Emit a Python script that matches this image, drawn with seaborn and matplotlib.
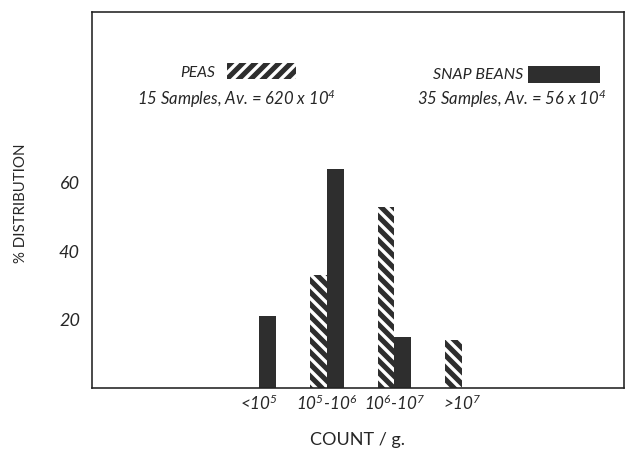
import numpy as np
import pandas as pd
import matplotlib
matplotlib.use("Agg")
from matplotlib import pyplot as plt
from matplotlib.patches import Rectangle
import seaborn as sns

# values (% distribution per count range)
categories = ['<1e5', '1e5-1e6', '1e6-1e7', '>1e7']
tick_labels = [r'<$10^5$', r'$10^5$-$10^6$', r'$10^6$-$10^7$', r'>$10^7$']
series = ['PEAS', 'SNAP BEANS']
peas = [np.nan, 33, 53, 14]
snap_beans = [21, 64, 15, np.nan]

df = pd.DataFrame({
    'range': categories * 2,
    'crop': [series[0]] * 4 + [series[1]] * 4,
    'pct': peas + snap_beans,
})

sns.set_style('white')
plt.rcParams['font.family'] = ['Lato', 'DejaVu Sans']
plt.rcParams['mathtext.fontset'] = 'custom'
plt.rcParams['mathtext.rm'] = 'Lato:italic'
plt.rcParams['mathtext.it'] = 'Lato:italic'
plt.rcParams['mathtext.default'] = 'it'
plt.rcParams['hatch.linewidth'] = 1.7
plt.rcParams['hatch.color'] = 'white'

dark = '#2e2e2e'

fig = plt.figure(figsize=(627 / 144, 454 / 144), dpi=144)
ax = fig.add_axes([0.1467, 0.1454, 0.8485, 0.8282])

sns.barplot(data=df, x='range', y='pct', hue='crop', order=categories,
            hue_order=series, palette=[dark, dark], width=0.5, gap=0,
            errorbar=None, legend=False, saturation=1, ax=ax)

# peas get white diagonal stripes
for bar in ax.containers[0]:
    bar.set_hatch('\\\\\\\\')
    bar.set_edgecolor('white')
    bar.set_linewidth(0)
for bar in ax.containers[1]:
    bar.set_linewidth(0)

ax.set_xlim(-2.48, 5.4)
ax.set_ylim(0, 110)
ax.set_yticks([20, 40, 60])
ax.set_xticks(range(len(categories)))
ax.set_xticklabels(tick_labels, fontstyle='italic', fontsize=8.5)
ax.tick_params(axis='y', direction='in', length=4.5, width=0.8,
               labelsize=9, pad=6)
ax.tick_params(axis='x', length=0, pad=3)
for lab in ax.get_yticklabels():
    lab.set_fontstyle('italic')
for sp in ax.spines.values():
    sp.set_linewidth(0.8)
    sp.set_color('#222222')

ax.set_ylabel('% DISTRIBUTION', fontsize=7.5)
ax.yaxis.set_label_coords(-0.12, 0.49)
ax.set_xlabel('COUNT / g.', fontsize=9)
ax.xaxis.set_label_coords(0.5, -0.118)

# hand-placed key, like the original figure
ax.text(0.2325, 0.838, 'PEAS', transform=ax.transAxes, ha='right',
        va='center', fontsize=7.8, fontstyle='italic')
ax.add_patch(Rectangle((0.2532, 0.821), 0.1297, 0.0426, transform=ax.transAxes,
                       facecolor=dark, edgecolor='white', linewidth=0,
                       hatch='////', clip_on=False))
ax.text(0.2707, 0.753, r'15 Samples, Av. = 620 x $10^4$', transform=ax.transAxes,
        ha='center', va='baseline', fontsize=8.3, fontstyle='italic')

ax.text(0.8107, 0.8324, 'SNAP BEANS', transform=ax.transAxes, ha='right',
        va='center', fontsize=8, fontstyle='italic')
ax.add_patch(Rectangle((0.8195, 0.8104), 0.1353, 0.046, transform=ax.transAxes,
                       facecolor=dark, linewidth=0, clip_on=False))
ax.text(0.7895, 0.753, r'35 Samples, Av. = 56 x $10^4$', transform=ax.transAxes,
        ha='center', va='baseline', fontsize=8.3, fontstyle='italic')

fig.savefig('out.png', dpi=144)
